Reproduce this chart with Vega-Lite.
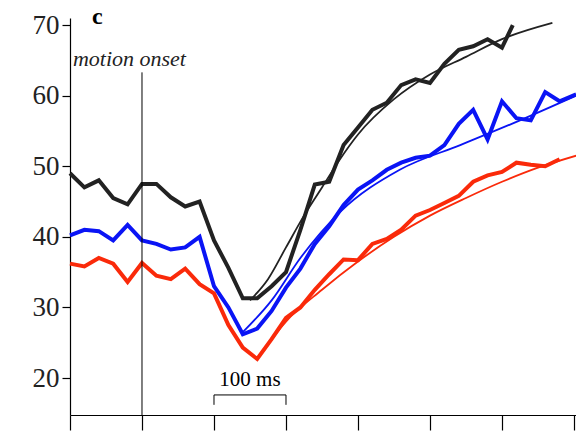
{
  "$schema": "https://vega.github.io/schema/vega-lite/v6.json",
  "width": 506,
  "height": 397,
  "autosize": "none",
  "padding": {"left": 70, "top": 18, "right": 0, "bottom": 18},
  "config": {"view": {"stroke": null}, "font": "Liberation Serif"},
  "datasets": {
    "data": [
      {"s":"black","t":-100,"v":49},{"s":"black","t":-80,"v":47},{"s":"black","t":-60,"v":48},{"s":"black","t":-40,"v":45.5},{"s":"black","t":-20,"v":44.6},{"s":"black","t":0,"v":47.5},{"s":"black","t":20,"v":47.5},{"s":"black","t":40,"v":45.6},{"s":"black","t":60,"v":44.3},{"s":"black","t":80,"v":45},{"s":"black","t":100,"v":39.5},{"s":"black","t":120,"v":35.6},{"s":"black","t":140,"v":31.3},{"s":"black","t":160,"v":31.3},{"s":"black","t":180,"v":33},{"s":"black","t":200,"v":35},{"s":"black","t":220,"v":41},{"s":"black","t":240,"v":47.4},{"s":"black","t":260,"v":47.8},{"s":"black","t":280,"v":53},{"s":"black","t":300,"v":55.5},{"s":"black","t":320,"v":58},{"s":"black","t":340,"v":59},{"s":"black","t":360,"v":61.5},{"s":"black","t":380,"v":62.3},{"s":"black","t":400,"v":61.8},{"s":"black","t":420,"v":64.5},{"s":"black","t":440,"v":66.5},{"s":"black","t":460,"v":67},{"s":"black","t":480,"v":68},{"s":"black","t":500,"v":66.8},{"s":"black","t":515,"v":70},
      {"s":"blue","t":-100,"v":40.2},{"s":"blue","t":-80,"v":41},{"s":"blue","t":-60,"v":40.8},{"s":"blue","t":-40,"v":39.5},{"s":"blue","t":-20,"v":41.7},{"s":"blue","t":0,"v":39.5},{"s":"blue","t":20,"v":39},{"s":"blue","t":40,"v":38.2},{"s":"blue","t":60,"v":38.5},{"s":"blue","t":80,"v":40},{"s":"blue","t":100,"v":33},{"s":"blue","t":120,"v":30},{"s":"blue","t":140,"v":26.2},{"s":"blue","t":160,"v":27},{"s":"blue","t":180,"v":29.5},{"s":"blue","t":200,"v":32.8},{"s":"blue","t":220,"v":35.5},{"s":"blue","t":240,"v":39},{"s":"blue","t":260,"v":41.5},{"s":"blue","t":280,"v":44.5},{"s":"blue","t":300,"v":46.7},{"s":"blue","t":320,"v":48},{"s":"blue","t":340,"v":49.5},{"s":"blue","t":360,"v":50.5},{"s":"blue","t":380,"v":51.2},{"s":"blue","t":400,"v":51.5},{"s":"blue","t":420,"v":53},{"s":"blue","t":440,"v":56},{"s":"blue","t":460,"v":58},{"s":"blue","t":480,"v":53.8},{"s":"blue","t":500,"v":59.2},{"s":"blue","t":520,"v":56.8},{"s":"blue","t":540,"v":56.5},{"s":"blue","t":560,"v":60.5},{"s":"blue","t":580,"v":59.2},{"s":"blue","t":603,"v":60.2},
      {"s":"red","t":-100,"v":36.2},{"s":"red","t":-80,"v":35.8},{"s":"red","t":-60,"v":37},{"s":"red","t":-40,"v":36.2},{"s":"red","t":-20,"v":33.6},{"s":"red","t":0,"v":36.3},{"s":"red","t":20,"v":34.5},{"s":"red","t":40,"v":34},{"s":"red","t":60,"v":35.5},{"s":"red","t":80,"v":33.3},{"s":"red","t":100,"v":32},{"s":"red","t":120,"v":27.5},{"s":"red","t":140,"v":24.3},{"s":"red","t":160,"v":22.7},{"s":"red","t":180,"v":25.5},{"s":"red","t":200,"v":28.5},{"s":"red","t":220,"v":30},{"s":"red","t":240,"v":32.5},{"s":"red","t":260,"v":34.7},{"s":"red","t":280,"v":36.8},{"s":"red","t":300,"v":36.7},{"s":"red","t":320,"v":39},{"s":"red","t":340,"v":39.7},{"s":"red","t":360,"v":41},{"s":"red","t":380,"v":43},{"s":"red","t":400,"v":43.8},{"s":"red","t":420,"v":44.8},{"s":"red","t":440,"v":45.8},{"s":"red","t":460,"v":47.8},{"s":"red","t":480,"v":48.7},{"s":"red","t":500,"v":49.2},{"s":"red","t":520,"v":50.5},{"s":"red","t":540,"v":50.2},{"s":"red","t":560,"v":50},{"s":"red","t":580,"v":51}
    ],
    "fit": [
      {"s":"black","t":150,"v":31},{"s":"black","t":175,"v":34},{"s":"black","t":200,"v":38.5},{"s":"black","t":225,"v":43},{"s":"black","t":250,"v":47},{"s":"black","t":275,"v":51},{"s":"black","t":300,"v":54.5},{"s":"black","t":350,"v":59.5},{"s":"black","t":400,"v":63},{"s":"black","t":450,"v":65.5},{"s":"black","t":500,"v":68},{"s":"black","t":570,"v":70.3},
      {"s":"blue","t":140,"v":26.5},{"s":"blue","t":180,"v":31},{"s":"blue","t":220,"v":37},{"s":"blue","t":275,"v":43.5},{"s":"blue","t":358,"v":49.5},{"s":"blue","t":442,"v":53},{"s":"blue","t":525,"v":56.5},{"s":"blue","t":603,"v":60},
      {"s":"red","t":160,"v":22.7},{"s":"red","t":200,"v":28},{"s":"red","t":250,"v":32.5},{"s":"red","t":300,"v":36.5},{"s":"red","t":350,"v":40},{"s":"red","t":400,"v":43},{"s":"red","t":450,"v":45.5},{"s":"red","t":500,"v":47.8},{"s":"red","t":550,"v":49.8},{"s":"red","t":603,"v":51.5}
    ]
  },
  "layer": [
    {
      "data": {"name": "data"},
      "mark": {"type": "line", "strokeWidth": 4, "clip": false},
      "encoding": {
        "x": {"field": "t", "type": "quantitative", "scale": {"domain": [-100, 602.8], "nice": false},
          "axis": {"values": [-100,0,100,200,300,400,500,600], "labels": false, "grid": false, "title": null, "tickSize": 15, "domainColor": "black", "tickColor": "black", "domainWidth": 1.2, "tickWidth": 1.2}},
        "y": {"field": "v", "type": "quantitative", "scale": {"domain": [14.76, 71], "nice": false, "zero": false},
          "axis": {"values": [20,30,40,50,60,70], "grid": false, "title": null, "tickSize": 8, "labelFontSize": 27, "labelFont": "Liberation Serif", "labelColor": "#222", "labelPadding": 3, "domainColor": "black", "tickColor": "black", "domainWidth": 1.2, "tickWidth": 1.2}},
        "color": {"field": "s", "type": "nominal", "scale": {"domain": ["black","blue","red"], "range": ["#222222","#0a14f5","#fa2a0a"]}, "legend": null}
      }
    },
    {
      "data": {"name": "fit"},
      "mark": {"type": "line", "strokeWidth": 1.8, "interpolate": "monotone", "clip": true},
      "encoding": {
        "x": {"field": "t", "type": "quantitative"},
        "y": {"field": "v", "type": "quantitative"},
        "color": {"field": "s", "type": "nominal", "legend": null}
      }
    },
    {
      "data": {"values": [{"t": 0, "a": 63.3, "b": 14.76}]},
      "mark": {"type": "rule", "color": "black", "strokeWidth": 1},
      "encoding": {"x": {"field": "t", "type": "quantitative"}, "y": {"field": "a", "type": "quantitative"}, "y2": {"field": "b"}}
    },
    {
      "data": {"values": [{"t": 100, "t2": 200, "v": 17.6, "v2": 17.6}, {"t": 100, "t2": 100, "v": 17.6, "v2": 16.2}, {"t": 200, "t2": 200, "v": 17.6, "v2": 16.2}]},
      "mark": {"type": "rule", "color": "black", "strokeWidth": 1},
      "encoding": {"x": {"field": "t", "type": "quantitative"}, "x2": {"field": "t2"}, "y": {"field": "v", "type": "quantitative"}, "y2": {"field": "v2"}}
    },
    {
      "data": {"values": [{"t": 150, "v": 19.7, "label": "100 ms"}]},
      "mark": {"type": "text", "fontSize": 21, "font": "Liberation Serif", "color": "black"},
      "encoding": {"x": {"field": "t", "type": "quantitative"}, "y": {"field": "v", "type": "quantitative"}, "text": {"field": "label"}}
    },
    {
      "data": {"values": [{"t": -96, "v": 65.2, "label": "motion onset"}]},
      "mark": {"type": "text", "fontSize": 22, "fontStyle": "italic", "align": "left", "font": "Liberation Serif", "color": "#222"},
      "encoding": {"x": {"field": "t", "type": "quantitative"}, "y": {"field": "v", "type": "quantitative"}, "text": {"field": "label"}}
    },
    {
      "data": {"values": [{"t": -62, "v": 71.1, "label": "c"}]},
      "mark": {"type": "text", "fontSize": 24, "fontWeight": "bold", "font": "Liberation Serif", "color": "black"},
      "encoding": {"x": {"field": "t", "type": "quantitative"}, "y": {"field": "v", "type": "quantitative"}, "text": {"field": "label"}}
    }
  ]
}
